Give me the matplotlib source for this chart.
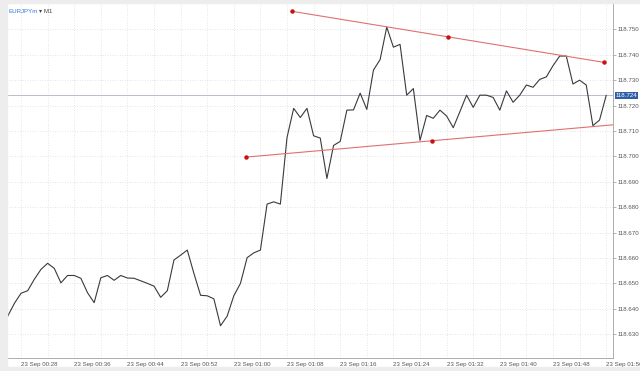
import numpy as np
import matplotlib
matplotlib.use("Agg")
import matplotlib.pyplot as plt
from matplotlib.patches import Rectangle
from matplotlib.transforms import blended_transform_factory

plt.rcParams['font.family'] = ['Liberation Sans', 'DejaVu Sans']

# EURJPYm M1 closes, one per minute from 23 Sep 00:26 to 01:56
prices = [
    118.6371, 118.6421, 118.6461, 118.6471, 118.6516, 118.6555, 118.6579, 118.6559,
    118.6502, 118.6531, 118.6531, 118.6520, 118.6463, 118.6424, 118.6522, 118.6531,
    118.6512, 118.6531, 118.6521, 118.6520, 118.6510, 118.6500, 118.6489, 118.6445,
    118.6471, 118.6592, 118.6611, 118.6631, 118.6539, 118.6453, 118.6451, 118.6439,
    118.6333, 118.6371, 118.6451, 118.6500, 118.6601, 118.6620, 118.6631, 118.6812,
    118.6821, 118.6812, 118.7074, 118.7189, 118.7153, 118.7189, 118.7081, 118.7072,
    118.6913, 118.7043, 118.7059, 118.7182, 118.7183, 118.7249, 118.7185, 118.7340,
    118.7381, 118.7509, 118.7430, 118.7441, 118.7241, 118.7267, 118.7063, 118.7161,
    118.7150, 118.7182, 118.7159, 118.7113, 118.7176, 118.7241, 118.7193, 118.7241,
    118.7241, 118.7232, 118.7182, 118.7258, 118.7213, 118.7241, 118.7281, 118.7272,
    118.7303, 118.7313, 118.7357, 118.7395, 118.7395, 118.7285, 118.7300, 118.7281,
    118.7121, 118.7143, 118.7240,
]
current_price = 118.724

# trend lines (minute index, price)
upper_t = [42.8, 89.7]
upper_p = [118.7571, 118.7370]
lower_t = [35.8, 91.8]
lower_p = [118.6997, 118.7126]

time_ticks = [2, 10, 18, 26, 34, 42, 50, 58, 66, 74, 82, 90]
time_labels = ["23 Sep 00:28", "23 Sep 00:36", "23 Sep 00:44", "23 Sep 00:52",
               "23 Sep 01:00", "23 Sep 01:08", "23 Sep 01:16", "23 Sep 01:24",
               "23 Sep 01:32", "23 Sep 01:40", "23 Sep 01:48", "23 Sep 01:56"]
price_ticks = [118.630, 118.640, 118.650, 118.660, 118.670, 118.680, 118.690,
               118.700, 118.710, 118.720, 118.730, 118.740, 118.750]

fig = plt.figure(figsize=(6.4, 3.71), dpi=100)
fig.patch.set_facecolor("white")
ax = fig.add_axes([0.0102, 0.035, 0.9481, 0.9556])

# light grey chrome strips round the chart
for r in [(0, 0, 0.0102, 1), (0, 0.9906, 1, 0.0094), (0, 0, 1, 0.012)]:
    fig.patches.append(Rectangle(r[:2], r[2], r[3], transform=fig.transFigure,
                                 color="#ededed", zorder=0))

x = np.arange(len(prices))
ax.plot(x, prices, color="#3a3a3a", lw=0.8, zorder=3)

ax.axhline(current_price, color="#b9bccb", lw=0.7, zorder=2)

for t, p in [(upper_t, upper_p), (lower_t, lower_p)]:
    ax.plot(t, p, color="#e07070", lw=0.8, zorder=4)
    ax.plot([t[0], np.mean(t), t[1]], [p[0], np.mean(p), p[1]], ls="none",
            marker="o", ms=2.2, color="#c81010", zorder=5)

ax.set_xlim(-0.18, 91.07)
ax.set_ylim(118.6206, 118.7602)

ax.set_xticks(np.arange(2, 91, 4), minor=False)
ax.set_yticks(price_ticks)
ax.grid(True, color="#dcdcdc", ls=(0, (1, 2)), lw=0.6)
ax.set_axisbelow(True)

ax.set_xticklabels([])
ax.tick_params(axis="x", length=0)
trans = blended_transform_factory(ax.transData, ax.transAxes)
for t, lab in zip(time_ticks, time_labels):
    ax.text(t, -0.012, lab, transform=trans, ha="left", va="top",
            fontsize=4.4, color="#555555", clip_on=False)

ax.yaxis.tick_right()
ax.set_yticklabels([f"{v:.3f}" for v in price_ticks])
ax.tick_params(axis="y", length=2, width=0.5, color="#999999", pad=1,
               labelsize=4.4, labelcolor="#555555")

ax.text(1.004, current_price, f"{current_price:.3f}",
        transform=blended_transform_factory(ax.transAxes, ax.transData),
        ha="left", va="center", fontsize=4.4, color="white", clip_on=False,
        bbox=dict(boxstyle="square,pad=0.15", fc="#2f5fa8", ec="none"))

ax.text(0.003, 0.985, "EURJPYm", transform=ax.transAxes, ha="left", va="top",
        fontsize=4.4, color="#2f7bd8")
ax.text(0.053, 0.985, "\u25be M1", transform=ax.transAxes, ha="left", va="top",
        fontsize=4.4, color="#444444")

for s in ax.spines.values():
    s.set_color("#a0a0a0")
    s.set_linewidth(0.6)

fig.savefig("out.png", dpi=100)
